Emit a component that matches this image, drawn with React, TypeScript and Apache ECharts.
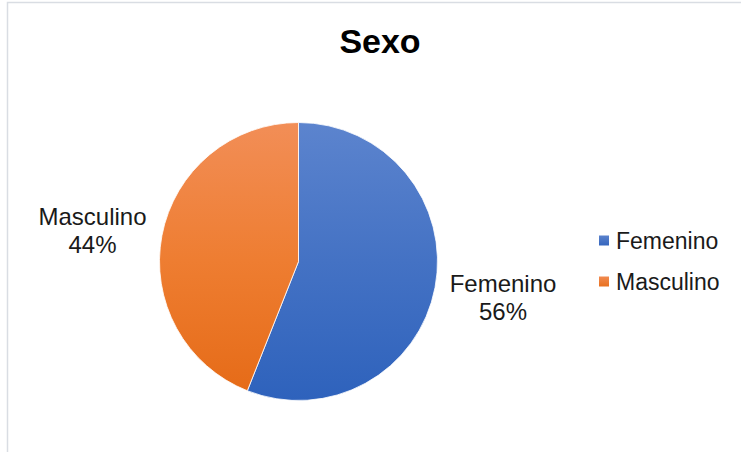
import React, { useEffect, useRef } from "react";
import * as echarts from "echarts";

const titleText = "Sexo";
const categories = ["Femenino", "Masculino"];
const values = [56, 44];

const FONT = "'Liberation Sans', Arial, sans-serif";

export default function App() {
  const ref = useRef<HTMLDivElement>(null);

  useEffect(() => {
    document.body.style.margin = "0";
    const chart = echarts.init(ref.current!, null, { renderer: "svg" });

    const blueGrad = new echarts.graphic.LinearGradient(
      0, 122, 0, 401,
      [
        { offset: 0, color: "#5C84CE" },
        { offset: 0.5, color: "#4472C4" },
        { offset: 1, color: "#2E62BC" },
      ],
      true
    );
    const orangeGrad = new echarts.graphic.LinearGradient(
      0, 122, 0, 401,
      [
        { offset: 0, color: "#F28E57" },
        { offset: 0.5, color: "#EE7D31" },
        { offset: 1, color: "#E56A16" },
      ],
      true
    );
    const blueIcon = new echarts.graphic.LinearGradient(0, 0, 0, 1, [
      { offset: 0, color: "#5A82CC" },
      { offset: 1, color: "#3566BE" },
    ]);
    const orangeIcon = new echarts.graphic.LinearGradient(0, 0, 0, 1, [
      { offset: 0, color: "#F18A50" },
      { offset: 1, color: "#E8711F" },
    ]);
    const fills = [blueGrad, orangeGrad];
    const icons = [blueIcon, orangeIcon];
    const labelPos = [
      { x: 503, y: 297 },
      { x: 92.5, y: 230 },
    ];

    chart.setOption({
      animation: false,
      backgroundColor: "#ffffff",
      title: {
        text: titleText,
        left: 375,
        top: 19,
        textAlign: "center",
        textStyle: {
          fontFamily: FONT,
          fontSize: 34,
          fontWeight: "bold",
          color: "#000000",
        },
      },
      legend: {
        orient: "vertical",
        left: 599,
        top: 229,
        padding: 0,
        itemWidth: 10,
        itemHeight: 10,
        itemGap: 18,
        icon: "rect",
        data: categories.map((name, i) => ({
          name,
          itemStyle: { color: icons[i], borderWidth: 0, borderColor: "transparent" },
        })),
        textStyle: {
          fontFamily: FONT,
          fontSize: 23,
          lineHeight: 23,
          color: "#1a1a1a",
          padding: [0, 0, 0, 2],
        },
      },
      graphic: [
        {
          type: "rect",
          silent: true,
          z: -1,
          shape: { x: 7.5, y: 2.5, width: 900, height: 700 },
          style: { fill: "none", stroke: "#d9dde3", lineWidth: 1.5 },
        },
      ],
      series: [
        {
          type: "pie",
          center: [298.5, 261.5],
          radius: 139,
          startAngle: 90,
          clockwise: true,
          data: categories.map((name, i) => ({
            name,
            value: values[i],
            itemStyle: { color: fills[i] },
          })),
          itemStyle: { borderColor: "#ffffff", borderWidth: 0.8 },
          label: {
            show: true,
            position: "outside",
            overflow: "none",
            formatter: (p: any) => `${p.name}\n${Math.round(p.percent)}%`,
            fontFamily: FONT,
            fontSize: 24,
            lineHeight: 28,
            color: "#1a1a1a",
            align: "center",
          },
          labelLine: { show: false },
          labelLayout: (p: any) => ({
            x: labelPos[p.dataIndex].x,
            y: labelPos[p.dataIndex].y,
            align: "center",
            verticalAlign: "middle",
          }),
          emphasis: { disabled: true },
        },
      ],
    });

    return () => chart.dispose();
  }, []);

  return <div ref={ref} style={{ width: 741, height: 452 }} />;
}
